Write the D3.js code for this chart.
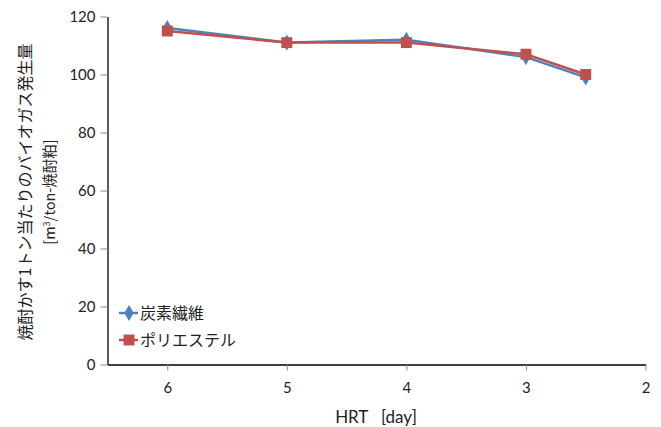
<!DOCTYPE html>
<html>
<head>
<meta charset="utf-8">
<script src="https://cdn.jsdelivr.net/npm/d3@7"></script>
<style>
  html, body { margin: 0; padding: 0; background: #fff; }
  svg { display: block; }
</style>
</head>
<body>
<svg id="chart" width="661" height="427"></svg>
<script>
// HRT [day] for each measurement
const hrt = [6, 5, 4, 3, 2.5];
// Biogas yield per ton of shochu residue [m3/ton]
const carbonFiber = [116, 111, 112, 106, 99];
const polyester = [115, 111, 111, 107, 100];
const seriesNames = ["炭素繊維", "ポリエステル"];
const xTicks = [6, 5, 4, 3, 2];
const yTicks = [0, 20, 40, 60, 80, 100, 120];

const svg = d3.select("#chart");
const numFont = "Lato, 'Liberation Sans', sans-serif";
const jpFont = "'Noto Sans CJK JP', sans-serif";

const x = d3.scaleLinear().domain([6.5, 2]).range([107.5, 645.5]);
const y = d3.scaleLinear().domain([0, 120]).range([364.5, 16.5]);

// Y axis
const yAxis = svg.append("g")
  .attr("transform", `translate(${x.range()[0]},0)`)
  .call(d3.axisLeft(y).tickValues(yTicks).tickFormat(d3.format("d"))
    .tickSize(7).tickPadding(5).tickSizeOuter(0));
yAxis.select(".domain").attr("stroke", "#000").attr("stroke-width", 1.3);
yAxis.selectAll(".tick line").attr("stroke", "#888");
yAxis.selectAll(".tick text").attr("font-family", numFont).attr("font-size", 15).attr("fill", "#222");

// X axis
const xAxis = svg.append("g")
  .attr("transform", `translate(0,${y.range()[0]})`)
  .call(d3.axisBottom(x).tickValues(xTicks).tickFormat(d3.format("d"))
    .tickSize(6).tickPadding(12).tickSizeOuter(0));
xAxis.select(".domain").attr("stroke", "#000").attr("stroke-width", 1.3);
xAxis.selectAll(".tick line").attr("stroke", "#888");
xAxis.selectAll(".tick text").attr("font-family", numFont).attr("font-size", 15).attr("fill", "#222");

// Axis titles
svg.append("text")
  .attr("x", 376).attr("y", 423)
  .attr("text-anchor", "middle")
  .attr("font-family", numFont).attr("font-size", 17).attr("fill", "#222")
  .attr("xml:space", "preserve")
  .text("HRT   [day]");

const yTitle = svg.append("g").attr("transform", "translate(25,192) rotate(-90)");
yTitle.append("text")
  .attr("x", 0).attr("y", 6)
  .attr("text-anchor", "middle")
  .attr("font-family", jpFont).attr("font-size", 16).attr("fill", "#222")
  .text("焼酎かす1トン当たりのバイオガス発生量");
const sub = yTitle.append("text")
  .attr("x", 0).attr("y", 30)
  .attr("text-anchor", "middle")
  .attr("font-family", jpFont).attr("font-size", 14.5).attr("fill", "#222");
sub.append("tspan").text("[m");
sub.append("tspan").attr("font-size", 9).attr("dy", -5).text("3");
sub.append("tspan").attr("dy", 5).text("/ton-焼酎粕]");

// Series
const colors = ["#4F81BD", "#C0504D"];
const data = [carbonFiber, polyester].map((vals, i) => ({
  name: seriesNames[i],
  color: colors[i],
  points: vals.map((v, j) => ({ x: hrt[j], y: v }))
}));

const line = d3.line().x(d => x(d.x)).y(d => y(d.y));
const diamond = d3.symbol().type(d3.symbolDiamond).size(75);
const square = d3.symbol().type(d3.symbolSquare).size(120);

data.forEach(s => {
  svg.append("path")
    .datum(s.points)
    .attr("d", line)
    .attr("fill", "none")
    .attr("stroke", s.color)
    .attr("stroke-width", 2.5);
});
data.forEach((s, i) => {
  svg.append("g").selectAll("path")
    .data(s.points)
    .join("path")
    .attr("transform", d => `translate(${x(d.x)},${y(d.y)})`)
    .attr("d", i === 0 ? diamond : square)
    .attr("fill", s.color);
});

// Legend
const legendY = [313, 340];
data.forEach((s, i) => {
  const g = svg.append("g").attr("transform", `translate(0,${legendY[i]})`);
  g.append("line").attr("x1", 119).attr("x2", 138).attr("y1", 0).attr("y2", 0)
    .attr("stroke", s.color).attr("stroke-width", 2.5);
  g.append("path").attr("transform", "translate(129,0)")
    .attr("d", i === 0 ? diamond : square).attr("fill", s.color);
  g.append("text").attr("x", 140).attr("y", 6)
    .attr("font-family", jpFont).attr("font-size", 16).attr("fill", "#222")
    .text(s.name);
});
</script>
</body>
</html>
